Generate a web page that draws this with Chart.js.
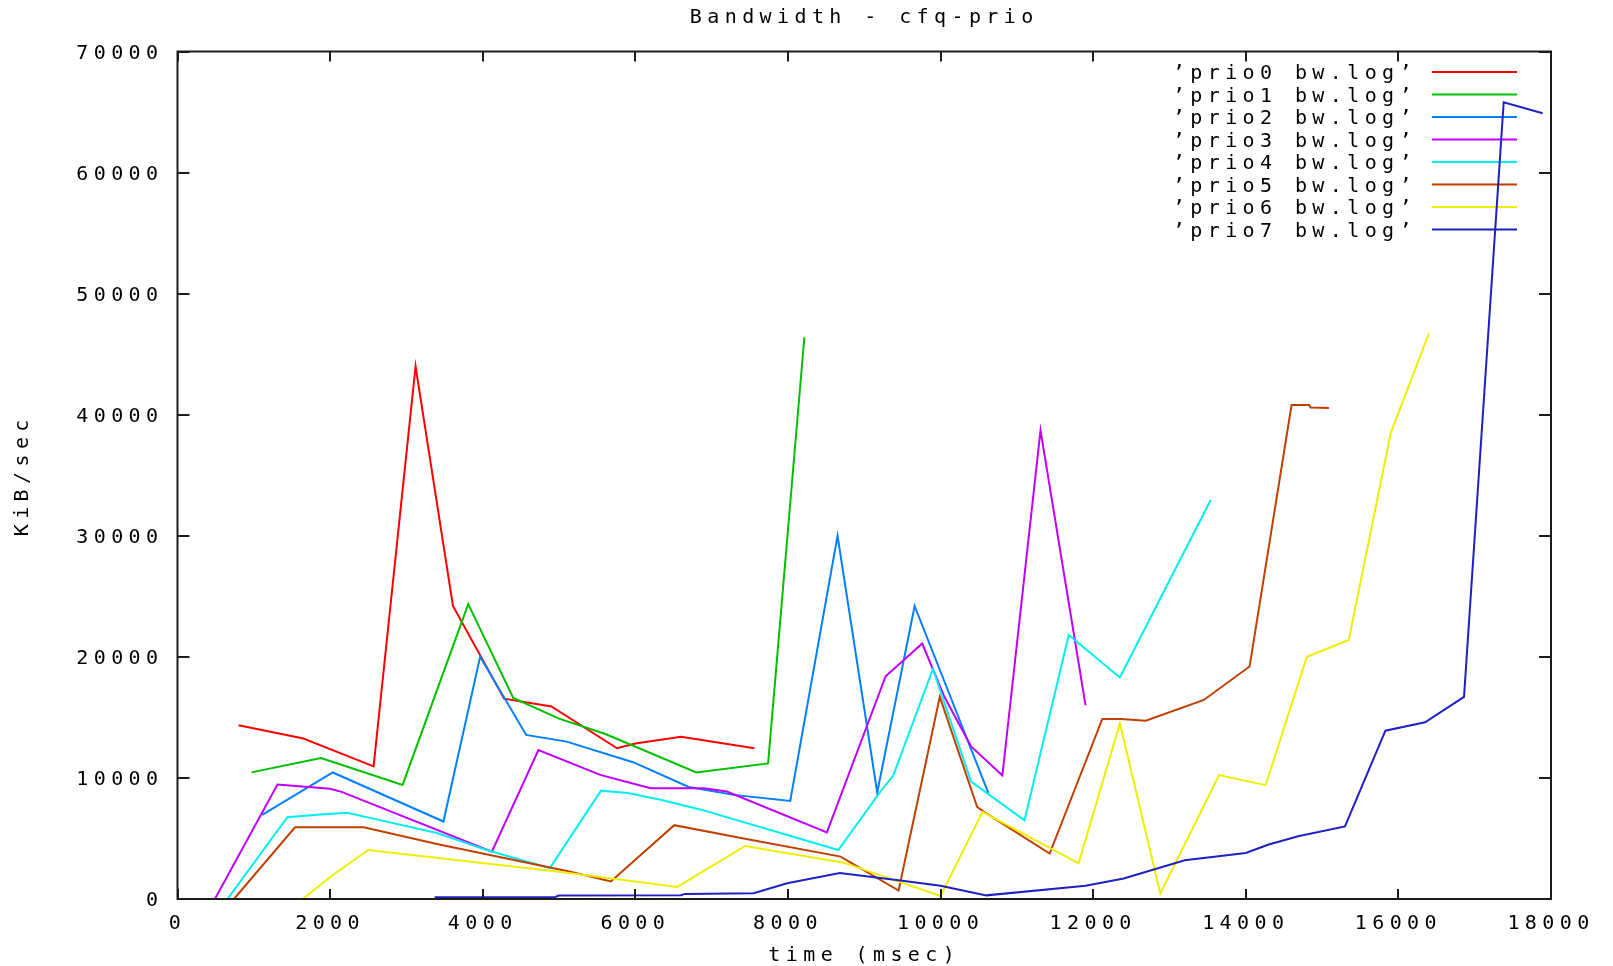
<!DOCTYPE html>
<html>
<head>
<meta charset="utf-8">
<script src="https://cdn.jsdelivr.net/npm/chart.js@4.4.1/dist/chart.umd.min.js"></script>
<style>
html,body{margin:0;padding:0;background:#ffffff;}
canvas{display:block;}
</style>
</head>
<body>
<canvas id="c" width="1613" height="966"></canvas>
<script>
// ---------- text ----------
const chartTitle = 'Bandwidth - cfq-prio';
const xAxisTitle = 'time (msec)';
const yAxisTitle = 'KiB/sec';

// ---------- tick labels ----------
const xTicks = [0, 2000, 4000, 6000, 8000, 10000, 12000, 14000, 16000, 18000];
const yTicks = [0, 10000, 20000, 30000, 40000, 50000, 60000, 70000];

// ---------- series ----------
const seriesNames = ["’prio0 bw.log’", "’prio1 bw.log’", "’prio2 bw.log’", "’prio3 bw.log’",
                     "’prio4 bw.log’", "’prio5 bw.log’", "’prio6 bw.log’", "’prio7 bw.log’"];
const seriesColors = ['#ff0000', '#00c000', '#0080ff', '#c000ff', '#00eeee', '#c04000', '#eeee00', '#2020c0'];

const prio0_time = [800, 1650, 1950, 2570, 3120, 3610, 4280, 4900, 5760, 6000, 6600, 7560];
const prio0_bw   = [14350, 13250, 12500, 10950, 44000, 24200, 16550, 15900, 12450, 12850, 13400, 12450];

const prio1_time = [970, 1880, 2950, 3810, 4400, 5000, 5600, 6800, 7740, 8215];
const prio1_bw   = [10460, 11650, 9420, 24350, 16600, 14900, 13650, 10450, 11200, 46400];

const prio2_time = [1110, 2035, 3485, 3966, 4570, 5100, 5970, 6700, 7290, 8030, 8650, 9170, 9660, 10630];
const prio2_bw   = [6950, 10450, 6400, 20000, 13550, 13000, 11300, 9250, 8600, 8100, 30000, 8800, 24200, 8700];

const prio3_time = [490, 1310, 1430, 2000, 2150, 4120, 4730, 5540, 6200, 6900, 7200, 8510, 9280, 9760, 10050, 10400, 10810, 11310, 11900];
const prio3_bw   = [0, 9450, 9400, 9100, 8850, 3900, 12300, 10250, 9150, 9150, 8880, 5500, 18400, 21100, 16700, 12600, 10200, 38700, 16000];

const prio4_time = [655, 1440, 1830, 2220, 2520, 3400, 4050, 4880, 5550, 5900, 6330, 6850, 8660, 9210, 9380, 9900, 10400, 11100, 11680, 12350, 13540];
const prio4_bw   = [0, 6750, 6950, 7130, 6700, 5450, 4050, 2550, 8950, 8750, 8200, 7400, 4050, 8860, 10200, 19000, 9700, 6500, 21800, 18300, 32950];

const prio5_time = [740, 1540, 2440, 3400, 5150, 5680, 6510, 7420, 8690, 8880, 9450, 9990, 10480, 10570, 11430, 12120, 12360, 12690, 13450, 14050, 14600, 14830, 14850, 15090];
const prio5_bw   = [0, 5920, 5920, 4550, 2250, 1450, 6100, 5000, 3500, 2800, 700, 16700, 7600, 7200, 3750, 14870, 14870, 14730, 16440, 19200, 40800, 40800, 40600, 40550];

const prio6_time = [1640, 2040, 2500, 5000, 6550, 7440, 8730, 10000, 10550, 11810, 12350, 12880, 13650, 14260, 14800, 15350, 15900, 16400];
const prio6_bw   = [0, 2000, 4050, 2250, 1000, 4380, 3000, 250, 7200, 2950, 14500, 450, 10240, 9400, 20000, 21400, 38500, 46700];

const prio7_time = [3370, 4950, 5000, 6600, 6650, 7550, 7990, 8680, 9500, 10000, 10600, 11900, 12400, 13200, 14000, 14300, 14700, 15300, 15830, 16350, 16860, 17380, 17890];
const prio7_bw   = [150, 170, 280, 320, 420, 480, 1300, 2150, 1500, 1100, 300, 1100, 1700, 3200, 3800, 4500, 5200, 6000, 13900, 14600, 16700, 65800, 64900];

const seriesTimes = [prio0_time, prio1_time, prio2_time, prio3_time, prio4_time, prio5_time, prio6_time, prio7_time];
const seriesValues = [prio0_bw, prio1_bw, prio2_bw, prio3_bw, prio4_bw, prio5_bw, prio6_bw, prio7_bw];

// ---------- style ----------
const FONT_FAMILY = '"DejaVu Sans Mono", "Liberation Mono", monospace';
const FONT_SIZE = 20;
const LETTER_SPACING = '5.4px';
const INK = '#000000';
const FRAME = '#1c1c1c';

const spacingPlugin = {
  id: 'letterSpacing',
  beforeUpdate(c) { c.ctx.letterSpacing = LETTER_SPACING; },
  beforeLayout(c) { c.ctx.letterSpacing = LETTER_SPACING; },
  beforeDraw(c) { c.ctx.letterSpacing = LETTER_SPACING; }
};

const keyPlugin = {
  id: 'gnuplotKey',
  beforeDatasetsDraw(c) {
    const ctx = c.ctx;
    const area = c.chartArea;
    ctx.save();
    ctx.letterSpacing = LETTER_SPACING;
    ctx.font = FONT_SIZE + 'px ' + FONT_FAMILY;
    ctx.textAlign = 'right';
    ctx.textBaseline = 'middle';
    c.data.datasets.forEach((ds, i) => {
      const y = area.top + 20.5 + i * 22.5;
      ctx.fillStyle = INK;
      ctx.fillText(ds.label, area.right - 134, y + 2);
      ctx.strokeStyle = ds.borderColor;
      ctx.lineWidth = 2;
      ctx.beginPath();
      ctx.moveTo(area.right - 119, y);
      ctx.lineTo(area.right - 34, y);
      ctx.stroke();
    });
    ctx.restore();
  }
};

const framePlugin = {
  id: 'gnuplotFrame',
  afterDatasetsDraw(c) {
    const ctx = c.ctx;
    const {left, right, top, bottom} = c.chartArea;
    const xs = c.scales.x, ys = c.scales.y;
    ctx.save();
    ctx.strokeStyle = FRAME;
    ctx.lineWidth = 2;
    ctx.beginPath();
    ctx.rect(left, top, right - left, bottom - top);
    xs.ticks.forEach(t => {
      const px = Math.round(xs.getPixelForValue(t.value));
      ctx.moveTo(px, bottom); ctx.lineTo(px, bottom - 10);
      ctx.moveTo(px, top); ctx.lineTo(px, top + 10);
    });
    ys.ticks.forEach(t => {
      const py = Math.round(ys.getPixelForValue(t.value));
      ctx.moveTo(left, py); ctx.lineTo(left + 12, py);
      ctx.moveTo(right, py); ctx.lineTo(right - 12, py);
    });
    ctx.stroke();
    ctx.restore();
  }
};

const datasets = seriesNames.map((name, i) => ({
  label: name,
  data: seriesTimes[i].map((t, k) => ({x: t, y: seriesValues[i][k]})),
  borderColor: seriesColors[i],
  backgroundColor: seriesColors[i],
  borderWidth: 2,
  pointRadius: 0,
  tension: 0,
  fill: false,
  order: seriesNames.length - 1 - i
}));

const tickFont = {family: FONT_FAMILY, size: FONT_SIZE, weight: 'normal'};

new Chart(document.getElementById('c'), {
  type: 'line',
  data: {datasets},
  plugins: [spacingPlugin, keyPlugin, framePlugin],
  options: {
    responsive: false,
    animation: false,
    devicePixelRatio: 1,
    layout: {padding: {left: 0, right: 62, top: 0, bottom: 0}},
    plugins: {
      legend: {display: false},
      tooltip: {enabled: false},
      title: {
        display: true,
        fullSize: false,
        text: chartTitle,
        color: INK,
        font: tickFont,
        padding: {top: 6, bottom: 21.5}
      }
    },
    scales: {
      x: {
        type: 'linear',
        min: xTicks[0],
        max: xTicks[xTicks.length - 1],
        afterBuildTicks(s) { s.ticks = xTicks.map(v => ({value: v})); },
        afterFit(s) { s.height = 67; },
        grid: {display: false, drawTicks: false},
        border: {display: false},
        ticks: {color: INK, font: tickFont, padding: 13, maxRotation: 0, autoSkip: false,
                callback: v => String(v)},
        title: {display: true, text: xAxisTitle, color: INK, font: tickFont, padding: {top: 0, bottom: -2}}
      },
      y: {
        min: yTicks[0],
        max: yTicks[yTicks.length - 1],
        afterBuildTicks(s) { s.ticks = yTicks.map(v => ({value: v})); },
        afterFit(s) { s.width = 177.5; },
        grid: {display: false, drawTicks: false},
        border: {display: false},
        ticks: {color: INK, font: tickFont, padding: 14, autoSkip: false, labelOffset: 2,
                callback: v => String(v)},
        title: {display: true, text: yAxisTitle, color: INK, font: tickFont, padding: {top: 11, bottom: 0}}
      }
    }
  }
});
</script>
</body>
</html>
